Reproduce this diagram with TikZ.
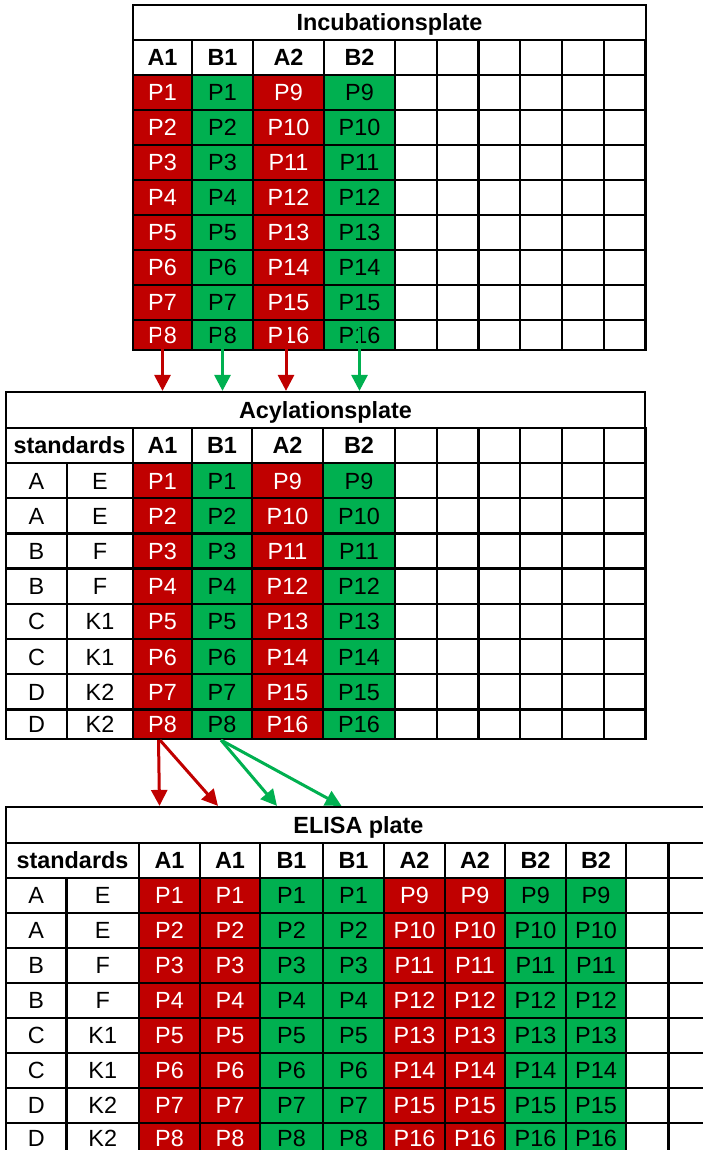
\documentclass[tikz,border=0pt]{standalone}
\usepackage{fontspec}
\setmainfont{Liberation Sans}
\usetikzlibrary{arrows.meta,calc}
\definecolor{platered}{HTML}{C00000}
\definecolor{plategreen}{HTML}{00B050}
\begin{document}
\begin{tikzpicture}[>={Triangle[length=16bp,width=16bp]},line join=miter,
  wellbox/.style={draw=black,line width=2.2bp,inner sep=0pt,minimum height=35bp,text height=16.8bp,text depth=0bp,font=\fontsize{23.4bp}{28bp}\selectfont},
  redwell/.style={wellbox,fill=platered,text=white},
  greenwell/.style={wellbox,fill=plategreen,text=black},
  headwell/.style={wellbox,font=\fontsize{23.4bp}{28bp}\selectfont\bfseries},
  emptywell/.style={wellbox,minimum width=41.75bp},
  redarrow/.style={->,draw=platered,line width=3bp},
  greenarrow/.style={->,draw=plategreen,line width=3bp}]
\useasboundingbox (0bp,0bp) rectangle (703bp,-1150bp);
\clip (0bp,0bp) rectangle (703bp,-1150bp);
%% incubation plate
\node (inc_title) at (389.5bp,-22.5bp) [headwell,minimum width=513bp] {Incubationsplate};
\node (inc_h_c1) at (162.5bp,-57.5bp) [headwell,minimum width=59bp] {A1};
\node (inc_h_c2) at (222.5bp,-57.5bp) [headwell,minimum width=61bp] {B1};
\node (inc_h_c3) at (288.5bp,-57.5bp) [headwell,minimum width=71bp] {A2};
\node (inc_h_c4) at (359.5bp,-57.5bp) [headwell,minimum width=71bp] {B2};
\node (inc_h_c5) at (415.9bp,-57.5bp) [emptywell] {};
\node (inc_h_c6) at (457.6bp,-57.5bp) [emptywell] {};
\node (inc_h_c7) at (499.4bp,-57.5bp) [emptywell] {};
\node (inc_h_c8) at (541.1bp,-57.5bp) [emptywell] {};
\node (inc_h_c9) at (582.9bp,-57.5bp) [emptywell] {};
\node (inc_h_c10) at (624.6bp,-57.5bp) [emptywell] {};
%
\node (inc_r1_c1) at (162.5bp,-92.5bp) [redwell,minimum width=59bp] {P1};
\node (inc_r1_c2) at (222.5bp,-92.5bp) [greenwell,minimum width=61bp] {P1};
\node (inc_r1_c3) at (288.5bp,-92.5bp) [redwell,minimum width=71bp] {P9};
\node (inc_r1_c4) at (359.5bp,-92.5bp) [greenwell,minimum width=71bp] {P9};
\node (inc_r1_c5) at (415.9bp,-92.5bp) [emptywell] {};
\node (inc_r1_c6) at (457.6bp,-92.5bp) [emptywell] {};
\node (inc_r1_c7) at (499.4bp,-92.5bp) [emptywell] {};
\node (inc_r1_c8) at (541.1bp,-92.5bp) [emptywell] {};
\node (inc_r1_c9) at (582.9bp,-92.5bp) [emptywell] {};
\node (inc_r1_c10) at (624.6bp,-92.5bp) [emptywell] {};
\node (inc_r2_c1) at (162.5bp,-127.5bp) [redwell,minimum width=59bp] {P2};
\node (inc_r2_c2) at (222.5bp,-127.5bp) [greenwell,minimum width=61bp] {P2};
\node (inc_r2_c3) at (288.5bp,-127.5bp) [redwell,minimum width=71bp] {P10};
\node (inc_r2_c4) at (359.5bp,-127.5bp) [greenwell,minimum width=71bp] {P10};
\node (inc_r2_c5) at (415.9bp,-127.5bp) [emptywell] {};
\node (inc_r2_c6) at (457.6bp,-127.5bp) [emptywell] {};
\node (inc_r2_c7) at (499.4bp,-127.5bp) [emptywell] {};
\node (inc_r2_c8) at (541.1bp,-127.5bp) [emptywell] {};
\node (inc_r2_c9) at (582.9bp,-127.5bp) [emptywell] {};
\node (inc_r2_c10) at (624.6bp,-127.5bp) [emptywell] {};
\node (inc_r3_c1) at (162.5bp,-162.5bp) [redwell,minimum width=59bp] {P3};
\node (inc_r3_c2) at (222.5bp,-162.5bp) [greenwell,minimum width=61bp] {P3};
\node (inc_r3_c3) at (288.5bp,-162.5bp) [redwell,minimum width=71bp] {P11};
\node (inc_r3_c4) at (359.5bp,-162.5bp) [greenwell,minimum width=71bp] {P11};
\node (inc_r3_c5) at (415.9bp,-162.5bp) [emptywell] {};
\node (inc_r3_c6) at (457.6bp,-162.5bp) [emptywell] {};
\node (inc_r3_c7) at (499.4bp,-162.5bp) [emptywell] {};
\node (inc_r3_c8) at (541.1bp,-162.5bp) [emptywell] {};
\node (inc_r3_c9) at (582.9bp,-162.5bp) [emptywell] {};
\node (inc_r3_c10) at (624.6bp,-162.5bp) [emptywell] {};
\node (inc_r4_c1) at (162.5bp,-197.5bp) [redwell,minimum width=59bp] {P4};
\node (inc_r4_c2) at (222.5bp,-197.5bp) [greenwell,minimum width=61bp] {P4};
\node (inc_r4_c3) at (288.5bp,-197.5bp) [redwell,minimum width=71bp] {P12};
\node (inc_r4_c4) at (359.5bp,-197.5bp) [greenwell,minimum width=71bp] {P12};
\node (inc_r4_c5) at (415.9bp,-197.5bp) [emptywell] {};
\node (inc_r4_c6) at (457.6bp,-197.5bp) [emptywell] {};
\node (inc_r4_c7) at (499.4bp,-197.5bp) [emptywell] {};
\node (inc_r4_c8) at (541.1bp,-197.5bp) [emptywell] {};
\node (inc_r4_c9) at (582.9bp,-197.5bp) [emptywell] {};
\node (inc_r4_c10) at (624.6bp,-197.5bp) [emptywell] {};
\node (inc_r5_c1) at (162.5bp,-232.5bp) [redwell,minimum width=59bp] {P5};
\node (inc_r5_c2) at (222.5bp,-232.5bp) [greenwell,minimum width=61bp] {P5};
\node (inc_r5_c3) at (288.5bp,-232.5bp) [redwell,minimum width=71bp] {P13};
\node (inc_r5_c4) at (359.5bp,-232.5bp) [greenwell,minimum width=71bp] {P13};
\node (inc_r5_c5) at (415.9bp,-232.5bp) [emptywell] {};
\node (inc_r5_c6) at (457.6bp,-232.5bp) [emptywell] {};
\node (inc_r5_c7) at (499.4bp,-232.5bp) [emptywell] {};
\node (inc_r5_c8) at (541.1bp,-232.5bp) [emptywell] {};
\node (inc_r5_c9) at (582.9bp,-232.5bp) [emptywell] {};
\node (inc_r5_c10) at (624.6bp,-232.5bp) [emptywell] {};
\node (inc_r6_c1) at (162.5bp,-267.5bp) [redwell,minimum width=59bp] {P6};
\node (inc_r6_c2) at (222.5bp,-267.5bp) [greenwell,minimum width=61bp] {P6};
\node (inc_r6_c3) at (288.5bp,-267.5bp) [redwell,minimum width=71bp] {P14};
\node (inc_r6_c4) at (359.5bp,-267.5bp) [greenwell,minimum width=71bp] {P14};
\node (inc_r6_c5) at (415.9bp,-267.5bp) [emptywell] {};
\node (inc_r6_c6) at (457.6bp,-267.5bp) [emptywell] {};
\node (inc_r6_c7) at (499.4bp,-267.5bp) [emptywell] {};
\node (inc_r6_c8) at (541.1bp,-267.5bp) [emptywell] {};
\node (inc_r6_c9) at (582.9bp,-267.5bp) [emptywell] {};
\node (inc_r6_c10) at (624.6bp,-267.5bp) [emptywell] {};
\node (inc_r7_c1) at (162.5bp,-302.5bp) [redwell,minimum width=59bp] {P7};
\node (inc_r7_c2) at (222.5bp,-302.5bp) [greenwell,minimum width=61bp] {P7};
\node (inc_r7_c3) at (288.5bp,-302.5bp) [redwell,minimum width=71bp] {P15};
\node (inc_r7_c4) at (359.5bp,-302.5bp) [greenwell,minimum width=71bp] {P15};
\node (inc_r7_c5) at (415.9bp,-302.5bp) [emptywell] {};
\node (inc_r7_c6) at (457.6bp,-302.5bp) [emptywell] {};
\node (inc_r7_c7) at (499.4bp,-302.5bp) [emptywell] {};
\node (inc_r7_c8) at (541.1bp,-302.5bp) [emptywell] {};
\node (inc_r7_c9) at (582.9bp,-302.5bp) [emptywell] {};
\node (inc_r7_c10) at (624.6bp,-302.5bp) [emptywell] {};
\node (inc_r8_c1) at (162.5bp,-335bp) [redwell,minimum width=59bp,minimum height=30bp] {P8};
\node (inc_r8_c2) at (222.5bp,-335bp) [greenwell,minimum width=61bp,minimum height=30bp] {P8};
\node (inc_r8_c3) at (288.5bp,-335bp) [redwell,minimum width=71bp,minimum height=30bp] {P16};
\node (inc_r8_c4) at (359.5bp,-335bp) [greenwell,minimum width=71bp,minimum height=30bp] {P16};
\node (inc_r8_c5) at (415.9bp,-335bp) [emptywell,minimum height=30bp] {};
\node (inc_r8_c6) at (457.6bp,-335bp) [emptywell,minimum height=30bp] {};
\node (inc_r8_c7) at (499.4bp,-335bp) [emptywell,minimum height=30bp] {};
\node (inc_r8_c8) at (541.1bp,-335bp) [emptywell,minimum height=30bp] {};
\node (inc_r8_c9) at (582.9bp,-335bp) [emptywell,minimum height=30bp] {};
\node (inc_r8_c10) at (624.6bp,-335bp) [emptywell,minimum height=30bp] {};
%% acylation plate
\node (acy_title) at (325.5bp,-410bp) [headwell,minimum width=639bp,minimum height=36bp] {Acylationsplate};
\node (acy_h_std) at (69.5bp,-445.5bp) [headwell,minimum width=127bp] {standards};
\node (acy_h_c1) at (162.5bp,-445.5bp) [headwell,minimum width=59bp] {A1};
\node (acy_h_c2) at (222bp,-445.5bp) [headwell,minimum width=60bp] {B1};
\node (acy_h_c3) at (287.5bp,-445.5bp) [headwell,minimum width=71bp] {A2};
\node (acy_h_c4) at (359bp,-445.5bp) [headwell,minimum width=72bp] {B2};
\node (acy_h_c5) at (415.9bp,-445.5bp) [emptywell] {};
\node (acy_h_c6) at (457.6bp,-445.5bp) [emptywell] {};
\node (acy_h_c7) at (499.4bp,-445.5bp) [emptywell] {};
\node (acy_h_c8) at (541.1bp,-445.5bp) [emptywell] {};
\node (acy_h_c9) at (582.9bp,-445.5bp) [emptywell] {};
\node (acy_h_c10) at (624.6bp,-445.5bp) [emptywell] {};
%
\node (acy_r1_s1) at (36.5bp,-480.6bp) [wellbox,minimum width=61bp] {A};
\node (acy_r1_s2) at (100bp,-480.6bp) [wellbox,minimum width=66bp] {E};
\node (acy_r1_c1) at (162.5bp,-480.6bp) [redwell,minimum width=59bp] {P1};
\node (acy_r1_c2) at (222bp,-480.6bp) [greenwell,minimum width=60bp] {P1};
\node (acy_r1_c3) at (287.5bp,-480.6bp) [redwell,minimum width=71bp] {P9};
\node (acy_r1_c4) at (359bp,-480.6bp) [greenwell,minimum width=72bp] {P9};
\node (acy_r1_c5) at (415.9bp,-480.6bp) [emptywell] {};
\node (acy_r1_c6) at (457.6bp,-480.6bp) [emptywell] {};
\node (acy_r1_c7) at (499.4bp,-480.6bp) [emptywell] {};
\node (acy_r1_c8) at (541.1bp,-480.6bp) [emptywell] {};
\node (acy_r1_c9) at (582.9bp,-480.6bp) [emptywell] {};
\node (acy_r1_c10) at (624.6bp,-480.6bp) [emptywell] {};
\node (acy_r2_s1) at (36.5bp,-515.8bp) [wellbox,minimum width=61bp] {A};
\node (acy_r2_s2) at (100bp,-515.8bp) [wellbox,minimum width=66bp] {E};
\node (acy_r2_c1) at (162.5bp,-515.8bp) [redwell,minimum width=59bp] {P2};
\node (acy_r2_c2) at (222bp,-515.8bp) [greenwell,minimum width=60bp] {P2};
\node (acy_r2_c3) at (287.5bp,-515.8bp) [redwell,minimum width=71bp] {P10};
\node (acy_r2_c4) at (359bp,-515.8bp) [greenwell,minimum width=72bp] {P10};
\node (acy_r2_c5) at (415.9bp,-515.8bp) [emptywell] {};
\node (acy_r2_c6) at (457.6bp,-515.8bp) [emptywell] {};
\node (acy_r2_c7) at (499.4bp,-515.8bp) [emptywell] {};
\node (acy_r2_c8) at (541.1bp,-515.8bp) [emptywell] {};
\node (acy_r2_c9) at (582.9bp,-515.8bp) [emptywell] {};
\node (acy_r2_c10) at (624.6bp,-515.8bp) [emptywell] {};
\node (acy_r3_s1) at (36.5bp,-551bp) [wellbox,minimum width=61bp] {B};
\node (acy_r3_s2) at (100bp,-551bp) [wellbox,minimum width=66bp] {F};
\node (acy_r3_c1) at (162.5bp,-551bp) [redwell,minimum width=59bp] {P3};
\node (acy_r3_c2) at (222bp,-551bp) [greenwell,minimum width=60bp] {P3};
\node (acy_r3_c3) at (287.5bp,-551bp) [redwell,minimum width=71bp] {P11};
\node (acy_r3_c4) at (359bp,-551bp) [greenwell,minimum width=72bp] {P11};
\node (acy_r3_c5) at (415.9bp,-551bp) [emptywell] {};
\node (acy_r3_c6) at (457.6bp,-551bp) [emptywell] {};
\node (acy_r3_c7) at (499.4bp,-551bp) [emptywell] {};
\node (acy_r3_c8) at (541.1bp,-551bp) [emptywell] {};
\node (acy_r3_c9) at (582.9bp,-551bp) [emptywell] {};
\node (acy_r3_c10) at (624.6bp,-551bp) [emptywell] {};
\node (acy_r4_s1) at (36.5bp,-586.2bp) [wellbox,minimum width=61bp] {B};
\node (acy_r4_s2) at (100bp,-586.2bp) [wellbox,minimum width=66bp] {F};
\node (acy_r4_c1) at (162.5bp,-586.2bp) [redwell,minimum width=59bp] {P4};
\node (acy_r4_c2) at (222bp,-586.2bp) [greenwell,minimum width=60bp] {P4};
\node (acy_r4_c3) at (287.5bp,-586.2bp) [redwell,minimum width=71bp] {P12};
\node (acy_r4_c4) at (359bp,-586.2bp) [greenwell,minimum width=72bp] {P12};
\node (acy_r4_c5) at (415.9bp,-586.2bp) [emptywell] {};
\node (acy_r4_c6) at (457.6bp,-586.2bp) [emptywell] {};
\node (acy_r4_c7) at (499.4bp,-586.2bp) [emptywell] {};
\node (acy_r4_c8) at (541.1bp,-586.2bp) [emptywell] {};
\node (acy_r4_c9) at (582.9bp,-586.2bp) [emptywell] {};
\node (acy_r4_c10) at (624.6bp,-586.2bp) [emptywell] {};
\node (acy_r5_s1) at (36.5bp,-621.4bp) [wellbox,minimum width=61bp] {C};
\node (acy_r5_s2) at (100bp,-621.4bp) [wellbox,minimum width=66bp] {K1};
\node (acy_r5_c1) at (162.5bp,-621.4bp) [redwell,minimum width=59bp] {P5};
\node (acy_r5_c2) at (222bp,-621.4bp) [greenwell,minimum width=60bp] {P5};
\node (acy_r5_c3) at (287.5bp,-621.4bp) [redwell,minimum width=71bp] {P13};
\node (acy_r5_c4) at (359bp,-621.4bp) [greenwell,minimum width=72bp] {P13};
\node (acy_r5_c5) at (415.9bp,-621.4bp) [emptywell] {};
\node (acy_r5_c6) at (457.6bp,-621.4bp) [emptywell] {};
\node (acy_r5_c7) at (499.4bp,-621.4bp) [emptywell] {};
\node (acy_r5_c8) at (541.1bp,-621.4bp) [emptywell] {};
\node (acy_r5_c9) at (582.9bp,-621.4bp) [emptywell] {};
\node (acy_r5_c10) at (624.6bp,-621.4bp) [emptywell] {};
\node (acy_r6_s1) at (36.5bp,-656.6bp) [wellbox,minimum width=61bp] {C};
\node (acy_r6_s2) at (100bp,-656.6bp) [wellbox,minimum width=66bp] {K1};
\node (acy_r6_c1) at (162.5bp,-656.6bp) [redwell,minimum width=59bp] {P6};
\node (acy_r6_c2) at (222bp,-656.6bp) [greenwell,minimum width=60bp] {P6};
\node (acy_r6_c3) at (287.5bp,-656.6bp) [redwell,minimum width=71bp] {P14};
\node (acy_r6_c4) at (359bp,-656.6bp) [greenwell,minimum width=72bp] {P14};
\node (acy_r6_c5) at (415.9bp,-656.6bp) [emptywell] {};
\node (acy_r6_c6) at (457.6bp,-656.6bp) [emptywell] {};
\node (acy_r6_c7) at (499.4bp,-656.6bp) [emptywell] {};
\node (acy_r6_c8) at (541.1bp,-656.6bp) [emptywell] {};
\node (acy_r6_c9) at (582.9bp,-656.6bp) [emptywell] {};
\node (acy_r6_c10) at (624.6bp,-656.6bp) [emptywell] {};
\node (acy_r7_s1) at (36.5bp,-691.8bp) [wellbox,minimum width=61bp] {D};
\node (acy_r7_s2) at (100bp,-691.8bp) [wellbox,minimum width=66bp] {K2};
\node (acy_r7_c1) at (162.5bp,-691.8bp) [redwell,minimum width=59bp] {P7};
\node (acy_r7_c2) at (222bp,-691.8bp) [greenwell,minimum width=60bp] {P7};
\node (acy_r7_c3) at (287.5bp,-691.8bp) [redwell,minimum width=71bp] {P15};
\node (acy_r7_c4) at (359bp,-691.8bp) [greenwell,minimum width=72bp] {P15};
\node (acy_r7_c5) at (415.9bp,-691.8bp) [emptywell] {};
\node (acy_r7_c6) at (457.6bp,-691.8bp) [emptywell] {};
\node (acy_r7_c7) at (499.4bp,-691.8bp) [emptywell] {};
\node (acy_r7_c8) at (541.1bp,-691.8bp) [emptywell] {};
\node (acy_r7_c9) at (582.9bp,-691.8bp) [emptywell] {};
\node (acy_r7_c10) at (624.6bp,-691.8bp) [emptywell] {};
\node (acy_r8_s1) at (36.5bp,-724.2bp) [wellbox,minimum width=61bp,minimum height=29.6bp] {D};
\node (acy_r8_s2) at (100bp,-724.2bp) [wellbox,minimum width=66bp,minimum height=29.6bp] {K2};
\node (acy_r8_c1) at (162.5bp,-724.2bp) [redwell,minimum width=59bp,minimum height=29.6bp] {P8};
\node (acy_r8_c2) at (222bp,-724.2bp) [greenwell,minimum width=60bp,minimum height=29.6bp] {P8};
\node (acy_r8_c3) at (287.5bp,-724.2bp) [redwell,minimum width=71bp,minimum height=29.6bp] {P16};
\node (acy_r8_c4) at (359bp,-724.2bp) [greenwell,minimum width=72bp,minimum height=29.6bp] {P16};
\node (acy_r8_c5) at (415.9bp,-724.2bp) [emptywell,minimum height=29.6bp] {};
\node (acy_r8_c6) at (457.6bp,-724.2bp) [emptywell,minimum height=29.6bp] {};
\node (acy_r8_c7) at (499.4bp,-724.2bp) [emptywell,minimum height=29.6bp] {};
\node (acy_r8_c8) at (541.1bp,-724.2bp) [emptywell,minimum height=29.6bp] {};
\node (acy_r8_c9) at (582.9bp,-724.2bp) [emptywell,minimum height=29.6bp] {};
\node (acy_r8_c10) at (624.6bp,-724.2bp) [emptywell,minimum height=29.6bp] {};
%% ELISA plate
\node (eli_title) at (358.5bp,-825bp) [headwell,minimum width=705bp,minimum height=36bp] {ELISA plate};
\node (eli_h_std) at (72.5bp,-860.5bp) [headwell,minimum width=133bp] {standards};
\node (eli_h_c1) at (169.5bp,-860.5bp) [headwell,minimum width=61bp] {A1};
\node (eli_h_c2) at (230bp,-860.5bp) [headwell,minimum width=60bp] {A1};
\node (eli_h_c3) at (291.5bp,-860.5bp) [headwell,minimum width=63bp] {B1};
\node (eli_h_c4) at (353.5bp,-860.5bp) [headwell,minimum width=61bp] {B1};
\node (eli_h_c5) at (414.5bp,-860.5bp) [headwell,minimum width=61bp] {A2};
\node (eli_h_c6) at (475bp,-860.5bp) [headwell,minimum width=60bp] {A2};
\node (eli_h_c7) at (535.5bp,-860.5bp) [headwell,minimum width=61bp] {B2};
\node (eli_h_c8) at (596bp,-860.5bp) [headwell,minimum width=60bp] {B2};
\node (eli_h_c9) at (647.25bp,-860.5bp) [emptywell,minimum width=42.5bp] {};
\node (eli_h_c10) at (689.75bp,-860.5bp) [emptywell,minimum width=42.5bp] {};
%
\node (eli_r1_s1) at (36.25bp,-895.5bp) [wellbox,minimum width=60.5bp] {A};
\node (eli_r1_s2) at (102.75bp,-895.5bp) [wellbox,minimum width=72.5bp] {E};
\node (eli_r1_c1) at (169.5bp,-895.5bp) [redwell,minimum width=61bp] {P1};
\node (eli_r1_c2) at (230bp,-895.5bp) [redwell,minimum width=60bp] {P1};
\node (eli_r1_c3) at (291.5bp,-895.5bp) [greenwell,minimum width=63bp] {P1};
\node (eli_r1_c4) at (353.5bp,-895.5bp) [greenwell,minimum width=61bp] {P1};
\node (eli_r1_c5) at (414.5bp,-895.5bp) [redwell,minimum width=61bp] {P9};
\node (eli_r1_c6) at (475bp,-895.5bp) [redwell,minimum width=60bp] {P9};
\node (eli_r1_c7) at (535.5bp,-895.5bp) [greenwell,minimum width=61bp] {P9};
\node (eli_r1_c8) at (596bp,-895.5bp) [greenwell,minimum width=60bp] {P9};
\node (eli_r1_c9) at (647.25bp,-895.5bp) [emptywell,minimum width=42.5bp] {};
\node (eli_r1_c10) at (689.75bp,-895.5bp) [emptywell,minimum width=42.5bp] {};
\node (eli_r2_s1) at (36.25bp,-930.5bp) [wellbox,minimum width=60.5bp] {A};
\node (eli_r2_s2) at (102.75bp,-930.5bp) [wellbox,minimum width=72.5bp] {E};
\node (eli_r2_c1) at (169.5bp,-930.5bp) [redwell,minimum width=61bp] {P2};
\node (eli_r2_c2) at (230bp,-930.5bp) [redwell,minimum width=60bp] {P2};
\node (eli_r2_c3) at (291.5bp,-930.5bp) [greenwell,minimum width=63bp] {P2};
\node (eli_r2_c4) at (353.5bp,-930.5bp) [greenwell,minimum width=61bp] {P2};
\node (eli_r2_c5) at (414.5bp,-930.5bp) [redwell,minimum width=61bp] {P10};
\node (eli_r2_c6) at (475bp,-930.5bp) [redwell,minimum width=60bp] {P10};
\node (eli_r2_c7) at (535.5bp,-930.5bp) [greenwell,minimum width=61bp] {P10};
\node (eli_r2_c8) at (596bp,-930.5bp) [greenwell,minimum width=60bp] {P10};
\node (eli_r2_c9) at (647.25bp,-930.5bp) [emptywell,minimum width=42.5bp] {};
\node (eli_r2_c10) at (689.75bp,-930.5bp) [emptywell,minimum width=42.5bp] {};
\node (eli_r3_s1) at (36.25bp,-965.5bp) [wellbox,minimum width=60.5bp] {B};
\node (eli_r3_s2) at (102.75bp,-965.5bp) [wellbox,minimum width=72.5bp] {F};
\node (eli_r3_c1) at (169.5bp,-965.5bp) [redwell,minimum width=61bp] {P3};
\node (eli_r3_c2) at (230bp,-965.5bp) [redwell,minimum width=60bp] {P3};
\node (eli_r3_c3) at (291.5bp,-965.5bp) [greenwell,minimum width=63bp] {P3};
\node (eli_r3_c4) at (353.5bp,-965.5bp) [greenwell,minimum width=61bp] {P3};
\node (eli_r3_c5) at (414.5bp,-965.5bp) [redwell,minimum width=61bp] {P11};
\node (eli_r3_c6) at (475bp,-965.5bp) [redwell,minimum width=60bp] {P11};
\node (eli_r3_c7) at (535.5bp,-965.5bp) [greenwell,minimum width=61bp] {P11};
\node (eli_r3_c8) at (596bp,-965.5bp) [greenwell,minimum width=60bp] {P11};
\node (eli_r3_c9) at (647.25bp,-965.5bp) [emptywell,minimum width=42.5bp] {};
\node (eli_r3_c10) at (689.75bp,-965.5bp) [emptywell,minimum width=42.5bp] {};
\node (eli_r4_s1) at (36.25bp,-1000.5bp) [wellbox,minimum width=60.5bp] {B};
\node (eli_r4_s2) at (102.75bp,-1000.5bp) [wellbox,minimum width=72.5bp] {F};
\node (eli_r4_c1) at (169.5bp,-1000.5bp) [redwell,minimum width=61bp] {P4};
\node (eli_r4_c2) at (230bp,-1000.5bp) [redwell,minimum width=60bp] {P4};
\node (eli_r4_c3) at (291.5bp,-1000.5bp) [greenwell,minimum width=63bp] {P4};
\node (eli_r4_c4) at (353.5bp,-1000.5bp) [greenwell,minimum width=61bp] {P4};
\node (eli_r4_c5) at (414.5bp,-1000.5bp) [redwell,minimum width=61bp] {P12};
\node (eli_r4_c6) at (475bp,-1000.5bp) [redwell,minimum width=60bp] {P12};
\node (eli_r4_c7) at (535.5bp,-1000.5bp) [greenwell,minimum width=61bp] {P12};
\node (eli_r4_c8) at (596bp,-1000.5bp) [greenwell,minimum width=60bp] {P12};
\node (eli_r4_c9) at (647.25bp,-1000.5bp) [emptywell,minimum width=42.5bp] {};
\node (eli_r4_c10) at (689.75bp,-1000.5bp) [emptywell,minimum width=42.5bp] {};
\node (eli_r5_s1) at (36.25bp,-1035.5bp) [wellbox,minimum width=60.5bp] {C};
\node (eli_r5_s2) at (102.75bp,-1035.5bp) [wellbox,minimum width=72.5bp] {K1};
\node (eli_r5_c1) at (169.5bp,-1035.5bp) [redwell,minimum width=61bp] {P5};
\node (eli_r5_c2) at (230bp,-1035.5bp) [redwell,minimum width=60bp] {P5};
\node (eli_r5_c3) at (291.5bp,-1035.5bp) [greenwell,minimum width=63bp] {P5};
\node (eli_r5_c4) at (353.5bp,-1035.5bp) [greenwell,minimum width=61bp] {P5};
\node (eli_r5_c5) at (414.5bp,-1035.5bp) [redwell,minimum width=61bp] {P13};
\node (eli_r5_c6) at (475bp,-1035.5bp) [redwell,minimum width=60bp] {P13};
\node (eli_r5_c7) at (535.5bp,-1035.5bp) [greenwell,minimum width=61bp] {P13};
\node (eli_r5_c8) at (596bp,-1035.5bp) [greenwell,minimum width=60bp] {P13};
\node (eli_r5_c9) at (647.25bp,-1035.5bp) [emptywell,minimum width=42.5bp] {};
\node (eli_r5_c10) at (689.75bp,-1035.5bp) [emptywell,minimum width=42.5bp] {};
\node (eli_r6_s1) at (36.25bp,-1070.5bp) [wellbox,minimum width=60.5bp] {C};
\node (eli_r6_s2) at (102.75bp,-1070.5bp) [wellbox,minimum width=72.5bp] {K1};
\node (eli_r6_c1) at (169.5bp,-1070.5bp) [redwell,minimum width=61bp] {P6};
\node (eli_r6_c2) at (230bp,-1070.5bp) [redwell,minimum width=60bp] {P6};
\node (eli_r6_c3) at (291.5bp,-1070.5bp) [greenwell,minimum width=63bp] {P6};
\node (eli_r6_c4) at (353.5bp,-1070.5bp) [greenwell,minimum width=61bp] {P6};
\node (eli_r6_c5) at (414.5bp,-1070.5bp) [redwell,minimum width=61bp] {P14};
\node (eli_r6_c6) at (475bp,-1070.5bp) [redwell,minimum width=60bp] {P14};
\node (eli_r6_c7) at (535.5bp,-1070.5bp) [greenwell,minimum width=61bp] {P14};
\node (eli_r6_c8) at (596bp,-1070.5bp) [greenwell,minimum width=60bp] {P14};
\node (eli_r6_c9) at (647.25bp,-1070.5bp) [emptywell,minimum width=42.5bp] {};
\node (eli_r6_c10) at (689.75bp,-1070.5bp) [emptywell,minimum width=42.5bp] {};
\node (eli_r7_s1) at (36.25bp,-1105.5bp) [wellbox,minimum width=60.5bp] {D};
\node (eli_r7_s2) at (102.75bp,-1105.5bp) [wellbox,minimum width=72.5bp] {K2};
\node (eli_r7_c1) at (169.5bp,-1105.5bp) [redwell,minimum width=61bp] {P7};
\node (eli_r7_c2) at (230bp,-1105.5bp) [redwell,minimum width=60bp] {P7};
\node (eli_r7_c3) at (291.5bp,-1105.5bp) [greenwell,minimum width=63bp] {P7};
\node (eli_r7_c4) at (353.5bp,-1105.5bp) [greenwell,minimum width=61bp] {P7};
\node (eli_r7_c5) at (414.5bp,-1105.5bp) [redwell,minimum width=61bp] {P15};
\node (eli_r7_c6) at (475bp,-1105.5bp) [redwell,minimum width=60bp] {P15};
\node (eli_r7_c7) at (535.5bp,-1105.5bp) [greenwell,minimum width=61bp] {P15};
\node (eli_r7_c8) at (596bp,-1105.5bp) [greenwell,minimum width=60bp] {P15};
\node (eli_r7_c9) at (647.25bp,-1105.5bp) [emptywell,minimum width=42.5bp] {};
\node (eli_r7_c10) at (689.75bp,-1105.5bp) [emptywell,minimum width=42.5bp] {};
\node (eli_r8_s1) at (36.25bp,-1138bp) [wellbox,minimum width=60.5bp,minimum height=30bp] {D};
\node (eli_r8_s2) at (102.75bp,-1138bp) [wellbox,minimum width=72.5bp,minimum height=30bp] {K2};
\node (eli_r8_c1) at (169.5bp,-1138bp) [redwell,minimum width=61bp,minimum height=30bp] {P8};
\node (eli_r8_c2) at (230bp,-1138bp) [redwell,minimum width=60bp,minimum height=30bp] {P8};
\node (eli_r8_c3) at (291.5bp,-1138bp) [greenwell,minimum width=63bp,minimum height=30bp] {P8};
\node (eli_r8_c4) at (353.5bp,-1138bp) [greenwell,minimum width=61bp,minimum height=30bp] {P8};
\node (eli_r8_c5) at (414.5bp,-1138bp) [redwell,minimum width=61bp,minimum height=30bp] {P16};
\node (eli_r8_c6) at (475bp,-1138bp) [redwell,minimum width=60bp,minimum height=30bp] {P16};
\node (eli_r8_c7) at (535.5bp,-1138bp) [greenwell,minimum width=61bp,minimum height=30bp] {P16};
\node (eli_r8_c8) at (596bp,-1138bp) [greenwell,minimum width=60bp,minimum height=30bp] {P16};
\node (eli_r8_c9) at (647.25bp,-1138bp) [emptywell,minimum width=42.5bp,minimum height=30bp] {};
\node (eli_r8_c10) at (689.75bp,-1138bp) [emptywell,minimum width=42.5bp,minimum height=30bp] {};
%% transfers
\draw [redarrow] ([yshift=7bp]inc_r8_c1.center) -- (inc_r8_c1 |- acy_title.north);
\draw [greenarrow] ([yshift=7bp]inc_r8_c2.center) -- (inc_r8_c2 |- acy_title.north);
\draw [redarrow] ([xshift=-2.5bp,yshift=7bp]inc_r8_c3.center) -- ($(inc_r8_c3 |- acy_title.north)+(-2.5bp,0)$);
\draw [greenarrow] ([yshift=7bp]inc_r8_c4.center) -- (inc_r8_c4 |- acy_title.north);
\draw [redarrow] ([xshift=-4bp]acy_r8_c1.south) -- ($(eli_h_c1 |- eli_title.north)+(-10bp,0)$);
\draw [redarrow] ([xshift=-2.5bp]acy_r8_c1.south) -- ($(eli_h_c2 |- eli_title.north)+(-12bp,0)$);
\draw [greenarrow] ([xshift=-1bp]acy_r8_c2.south) -- ($(eli_h_c3 |- eli_title.north)+(-14.5bp,0)$);
\draw [greenarrow] ([xshift=-1bp]acy_r8_c2.south) -- ($(eli_h_c4 |- eli_title.north)+(-12bp,0)$);
%
\end{tikzpicture}
\end{document}
